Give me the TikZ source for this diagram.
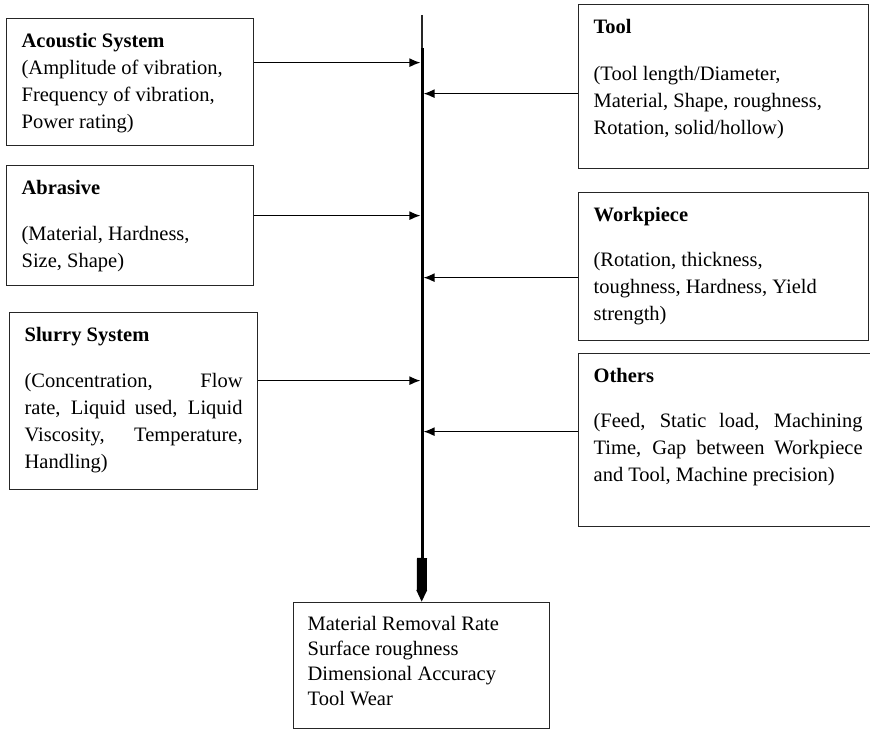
\documentclass[tikz,border=0pt]{standalone}
\usepackage{fontspec}
\setmainfont{Liberation Serif}
\usetikzlibrary{arrows.meta}
\def\boxtext(#1,#2)#3{\begin{minipage}[t][#2pt][t]{#1pt}#3\end{minipage}}
\tikzset{
	param/.style={draw=black!85, line width=1.3pt, anchor=north west, inner xsep=15pt, inner ysep=15pt, font=\fontsize{20.5}{27}\selectfont},
	feed/.style={line width=1.3pt, -{Latex[length=11pt,width=9pt]}, shorten >=1.6pt},
}

\begin{document}
\begin{tikzpicture}[x=1pt, y=-1pt]
		%%%%% START %%%%%
		\useasboundingbox (0, 0) rectangle (870, 730);
		
		\node[param] (acoustic) at (6, 18) {\boxtext(217,97){\raggedright\textbf{Acoustic System}\\ (Amplitude of vibration,\\ Frequency of vibration,\\ Power rating)}};
		\node[param] (abrasive) at (6, 165) {\boxtext(217,90){\raggedright\textbf{Abrasive}\\[19pt] (Material, Hardness,\\ Size, Shape)}};
		\node[param] (slurry) at (9, 312) {\boxtext(218,147){\textbf{Slurry System}\\[19pt] (Concentration, Flow\linebreak rate, Liquid used, Liquid\linebreak Viscosity, Temperature,\linebreak Handling)}};
		
		\node[param] (tool) at (578, 4) {\boxtext(260,134){\raggedright\textbf{Tool}\\[20pt] (Tool length/Diameter,\\ Material, Shape, roughness,\\ Rotation, solid/hollow)}};
		\node[param] (workpiece) at (578, 192) {\boxtext(260,118){\raggedright\textbf{Workpiece}\\[18pt] (Rotation, thickness,\\ toughness, Hardness, Yield\\ strength)}};
		\node[param] (others) at (578, 353) {\boxtext(269,143){\textbf{Others}\\[18pt] (Feed, Static load, Machining\linebreak Time, Gap between Workpiece\linebreak and Tool, Machine precision)}};
		
		\node[param, inner xsep=14pt, inner ysep=14pt, font=\fontsize{20.5}{25}\selectfont] (result) at (293, 602) {\boxtext(228,98){\raggedright Material Removal Rate\\ Surface roughness\\ Dimensional Accuracy\\ Tool Wear}};
		
		% main line
		\coordinate (top) at (422, 15);
		\coordinate (split) at (422, 48);
		\coordinate (neck) at (422, 558);
		\draw[line width=1.6pt, black!85] (top) -- (split);
		\draw[line width=3pt] (split) -- (neck);
		\draw[line width=10pt, -{Triangle[length=12pt,width=10pt]}] (neck) -- (result.north);
		
		% inputs
		\coordinate (a1) at ([yshift=19.5pt]acoustic.east);
		\coordinate (a2) at ([yshift=10pt]abrasive.east);
		\coordinate (a3) at ([yshift=20.5pt]slurry.east);
		\coordinate (b1) at ([yshift=-7pt]tool.west);
		\coordinate (b2) at ([yshift=-11pt]workpiece.west);
		\coordinate (b3) at ([yshift=8.5pt]others.west);
		\foreach \p in {a1,a2,a3,b1,b2,b3}
			\draw[feed] (\p) -- (\p -| top);
		%%%%% END %%%%%
	\end{tikzpicture}
\end{document}
